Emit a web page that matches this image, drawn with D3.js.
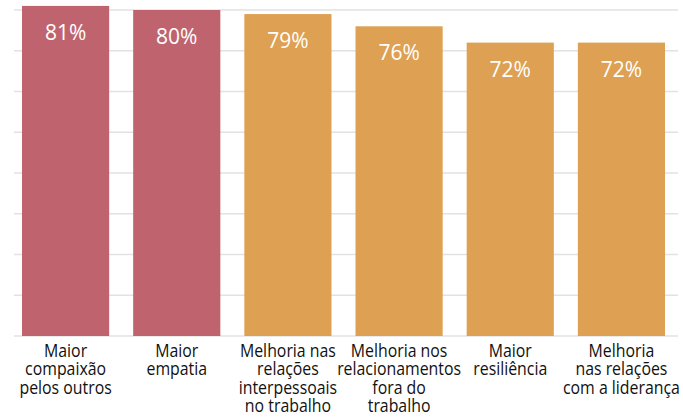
<!DOCTYPE html>
<html><head><meta charset="utf-8">
<script src="https://cdn.jsdelivr.net/npm/d3@7"></script>
<style>html,body{margin:0;padding:0;background:#fff;}svg{display:block;}</style>
</head><body>
<svg id="chart" width="683" height="418"></svg>
<script>
const categories = [
  "Maior\ncompaixão\npelos outros",
  "Maior\nempatia",
  "Melhoria nas\nrelações\ninterpessoais\nno trabalho",
  "Melhoria nos\nrelacionamentos\nfora do\ntrabalho",
  "Maior\nresiliência",
  "Melhoria\nnas relações\ncom a liderança"
];
const values = [81, 80, 79, 76, 72, 72];
const groups = ["a", "a", "b", "b", "b", "b"];
const yTicks = [0, 10, 20, 30, 40, 50, 60, 70, 80];

const svg = d3.select("#chart");
const x = d3.scaleBand().domain(categories).range([10, 677]).paddingInner(0.216).paddingOuter(0.108);
const y = d3.scaleLinear().domain([0, 80]).range([336, 10]);
const color = d3.scaleOrdinal().domain(["a", "b"]).range(["#bf646e", "#dea052"]);

svg.append("g").selectAll("line").data(yTicks).join("line")
  .attr("x1", 14).attr("x2", 678)
  .attr("y1", d => y(d)).attr("y2", d => y(d))
  .attr("stroke", "#e2e2e2").attr("stroke-width", 1.5);

const data = categories.map((c, i) => ({c, v: values[i], g: groups[i]}));

svg.append("g").selectAll("rect").data(data).join("rect")
  .attr("x", d => x(d.c)).attr("width", x.bandwidth())
  .attr("y", d => y(d.v)).attr("height", d => y(0) - y(d.v))
  .attr("fill", d => color(d.g));

svg.append("g").selectAll("text").data(data).join("text")
  .attr("x", d => x(d.c) + x.bandwidth() / 2)
  .attr("y", d => y(d.v) + 34)
  .attr("text-anchor", "middle")
  .attr("fill", "#fff")
  .attr("font-family", "'Open Sans', Lato, sans-serif")
  .attr("font-size", 21)
  .text(d => d.v + "%");

const probe = svg.append("text").attr("font-family", "'Open Sans', sans-serif")
  .attr("font-size", 18).text("relacionamentos");
const k = 124 / probe.node().getComputedTextLength();
probe.remove();

const lab = svg.append("g").selectAll("text").data(data).join("text")
  .attr("text-anchor", "middle")
  .attr("fill", "#111")
  .attr("font-family", "'Open Sans', sans-serif")
  .attr("font-size", 18)
  .attr("transform", d => `translate(${x(d.c) + x.bandwidth() / 2},357) scale(${k},1)`);
lab.selectAll("tspan").data(d => d.c.split("\n")).join("tspan")
  .attr("x", 0).attr("dy", (d, i) => i === 0 ? 0 : 18.3)
  .text(d => d);
</script>
</body></html>
